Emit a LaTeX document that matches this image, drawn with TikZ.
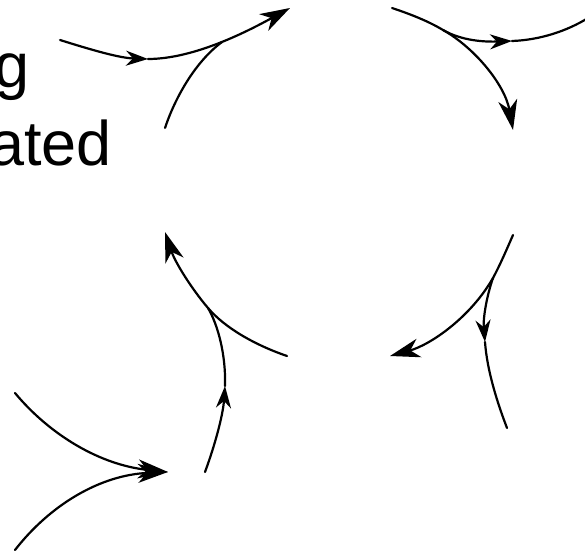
\documentclass[tikz,border=0pt]{standalone}
\usepackage{fontspec}
\setmainfont{Liberation Sans}
\usetikzlibrary{arrows.meta}

\begin{document}
\begin{tikzpicture}[
    x=1pt, y=-1pt,
    flow/.style={line width=2.2pt, line cap=round},
    endtip/.style={flow, -{Stealth[length=30pt, width=19pt, inset=9pt]}},
    midtip/.style={flow, -{Stealth[length=22pt, width=15pt, inset=7pt]}},
    word/.style={anchor=base east, inner sep=0pt, font=\fontsize{63}{76}\selectfont}
]
\clip (0,0) rectangle (585,556);

% words cut off at the left edge
\node[word] (ing) at (30,88) {g};
\node[word] (ated) at (112,165) {ated};

% top left
\coordinate (tlA) at (60,40);
\coordinate (tlAmid) at (148,59);
\coordinate (tlB) at (165,128);
\coordinate (tlmerge) at (222,42);
\coordinate (tltip) at (290,8);
\draw[midtip] (tlA) .. controls (95,51) and (120,58) .. (tlAmid);
\draw[endtip] (tlAmid) .. controls (195,59) and (250,30) .. (tltip);
\draw[flow] (tlB) .. controls (175,98) and (195,62) .. (tlmerge);

% top right
\coordinate (trstart) at (392,8);
\coordinate (trsplit) at (443,30);
\coordinate (trCmid) at (512,41);
\coordinate (trCend) at (588,18);
\coordinate (trtip) at (513,130);
\draw[flow] (trstart) .. controls (410,14) and (428,21) .. (trsplit);
\draw[midtip] (trsplit) .. controls (462,41) and (485,42) .. (trCmid);
\draw[flow] (trCmid) .. controls (540,40) and (567,31) .. (trCend);
\draw[endtip] (trsplit) .. controls (475,48) and (505,85) .. (trtip);

% bottom left
\coordinate (blEstart) at (287,356);
\coordinate (blmerge) at (208,308);
\coordinate (bltip) at (165,232);
\coordinate (blFstart) at (205,472);
\coordinate (blFmid) at (225,386);
\draw[flow] (blEstart) .. controls (255,345) and (225,328) .. (blmerge);
\draw[endtip] (blmerge) .. controls (191,288) and (175,262) .. (bltip);
\draw[midtip] (blFstart) .. controls (215,445) and (223,415) .. (blFmid);
\draw[flow] (blFmid) .. controls (226,355) and (218,325) .. (blmerge);

\coordinate (blG) at (15,393);
\coordinate (blH) at (15,550);
\coordinate (blmeet) at (168,472);
\draw[endtip] (blG) .. controls (50,435) and (100,465) .. (blmeet);
\draw[endtip] (blH) .. controls (50,505) and (100,475) .. (blmeet);

% bottom right
\coordinate (brstart) at (513,235);
\coordinate (brsplit) at (493,278);
\coordinate (brtip) at (390,356);
\coordinate (brJmid) at (485,342);
\coordinate (brJend) at (507,428);
\draw[flow] (brstart) .. controls (506,251) and (500,265) .. (brsplit);
\draw[endtip] (brsplit) .. controls (470,318) and (430,345) .. (brtip);
\draw[midtip] (brsplit) .. controls (486,298) and (483,320) .. (brJmid);
\draw[flow] (brJmid) .. controls (487,370) and (497,402) .. (brJend);

\end{tikzpicture}
\end{document}
